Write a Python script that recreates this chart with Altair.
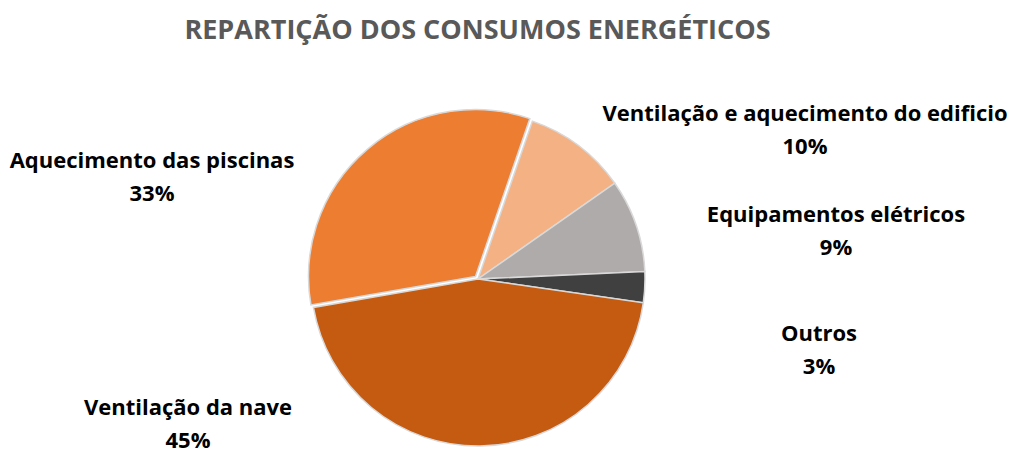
import math
import altair as alt
import pandas as pd

# ---- data ----
title_text = "REPARTIÇÃO DOS CONSUMOS ENERGÉTICOS"
categories = [
    "Ventilação e aquecimento do edificio",
    "Equipamentos elétricos",
    "Outros",
    "Ventilação da nave",
    "Aquecimento das piscinas",
]
values = [10, 9, 3, 45, 33]
colors = ["#F4B183", "#AFABAB", "#404040", "#C55A11", "#ED7D31"]

# ---- layout (label anchors in pixels, pie geometry) ----
label_x = [797, 828, 811, 180, 144]
label_y = [105.5, 206.5, 325.5, 400, 152.5]
CX, CY, R = 470, 271, 167
EXPLODE = "Aquecimento das piscinas"
START = math.radians(19)

df = pd.DataFrame({
    "category": categories,
    "value": values,
    "idx": list(range(len(categories))),
    "label": [f"{c}\n{v}%" for c, v in zip(categories, values)],
    "lx": label_x,
    "ly": label_y,
})

base = alt.Chart(df)
theta = alt.Theta("value:Q", stack=True,
                  scale=alt.Scale(range=[START, START + 2 * math.pi]))
order = alt.Order("idx:Q")
color = alt.Color("category:N",
                  scale=alt.Scale(domain=categories, range=colors), legend=None)

pie = base.mark_arc(radius=R, stroke="#D9D9D9", strokeWidth=1.5).encode(
    theta=theta, order=order, color=color,
    x=alt.value(CX), y=alt.value(CY),
    opacity=alt.condition(alt.datum.category == EXPLODE, alt.value(0), alt.value(1)),
)
pie_ex = base.mark_arc(radius=R, stroke="#D9D9D9", strokeWidth=1.5).encode(
    theta=theta, order=order, color=color,
    x=alt.value(CX - 2.5), y=alt.value(CY - 2.5),
    opacity=alt.condition(alt.datum.category == EXPLODE, alt.value(1), alt.value(0)),
)

labels = base.mark_text(
    font="Open Sans", fontSize=22, fontWeight="bold", color="#000000",
    lineBreak="\n", lineHeight=33, align="center", baseline="middle",
).encode(
    x=alt.X("lx:Q", scale=None),
    y=alt.Y("ly:Q", scale=None),
    text="label:N",
)

title = alt.Chart(pd.DataFrame({"t": [title_text]})).mark_text(
    font="Open Sans", fontSize=27, fontWeight="bold", color="#595959",
    align="center", baseline="alphabetic",
).encode(x=alt.value(469.5), y=alt.value(30.5), text="t:N")

chart = alt.layer(pie, pie_ex, labels, title).properties(
    width=1001, height=442,
    padding=0,
    autosize=alt.AutoSizeParams(type="none"),
).configure_view(stroke=None)

chart.save("out.html", embed_options={"renderer": "svg", "actions": False})
